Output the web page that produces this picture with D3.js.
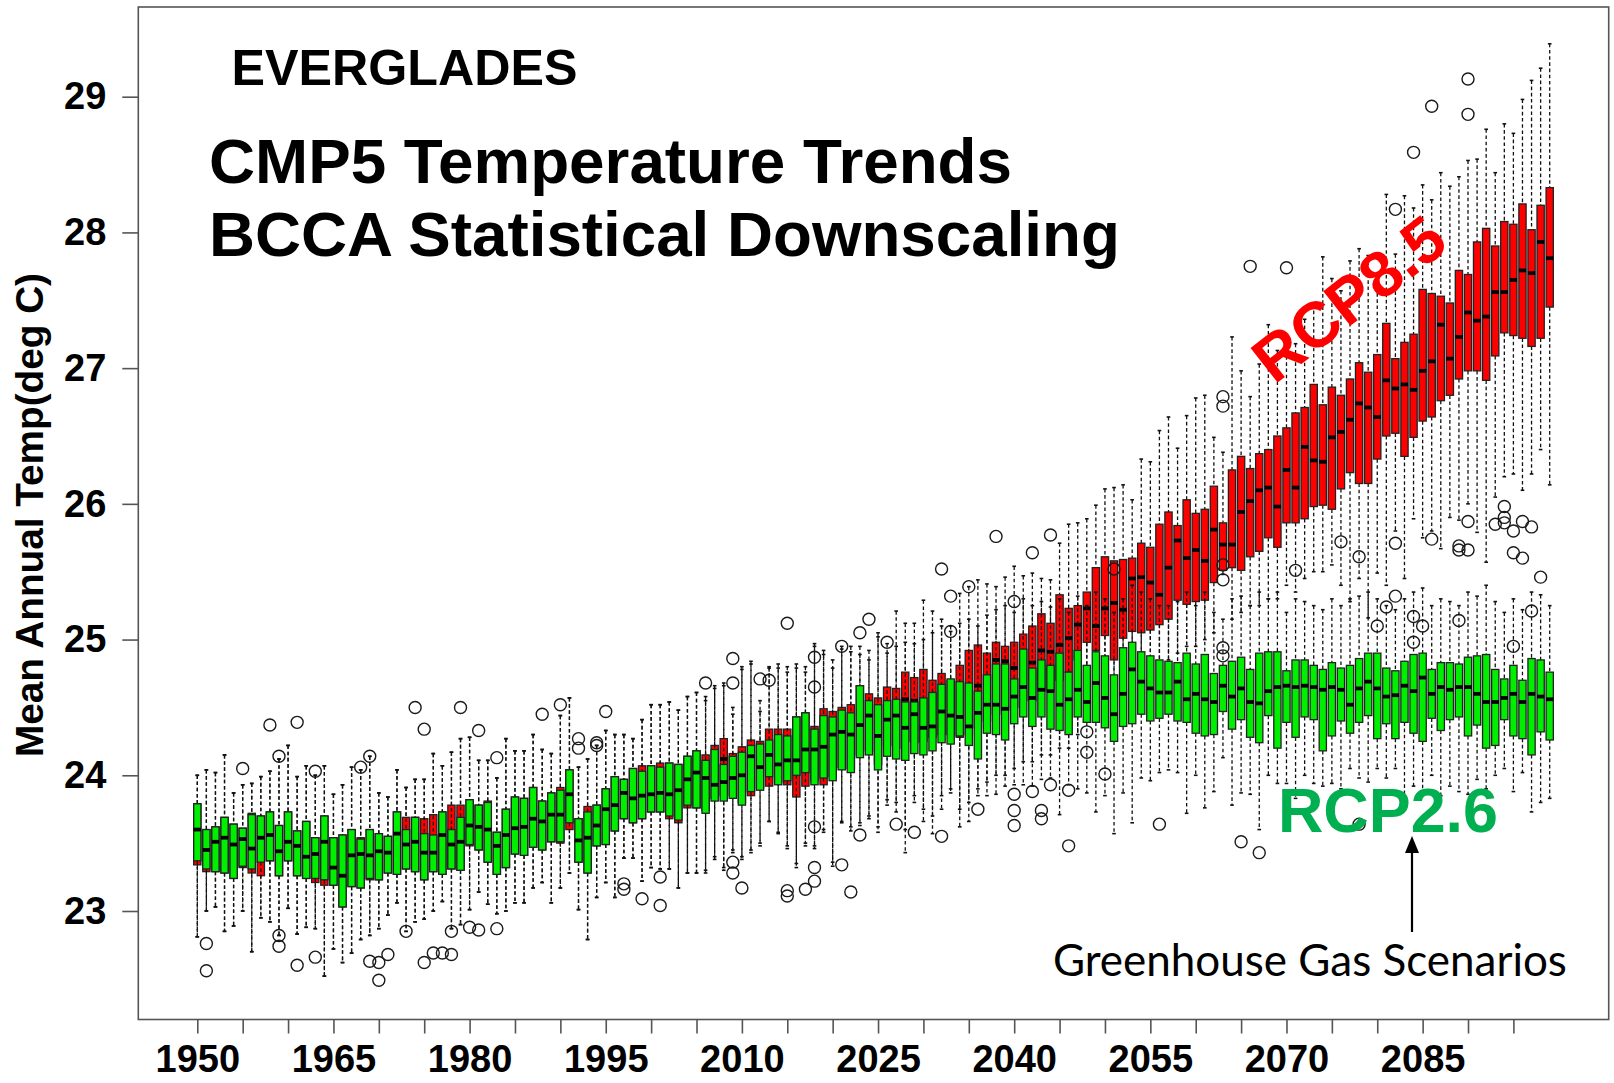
<!DOCTYPE html>
<html>
<head>
<meta charset="utf-8">
<script src="https://cdn.jsdelivr.net/npm/d3@7"></script>
<style>
  html, body { margin: 0; padding: 0; background: #fff; }
  svg { display: block; }
</style>
</head>
<body>
<svg id="chart" width="1614" height="1083"></svg>
<script>
// Everglades mean annual temperature, CMIP5 ensemble (BCCA downscaled), 1950-2099.
// Five-number summaries per year: lower whisker, Q1, median, Q3, upper whisker.

const years = d3.range(1950, 2100);

// ---- RCP2.6 (green) ----
const g_lo = [
  22.81, 23.00, 23.03, 22.85, 22.89, 23.00, 22.70, 22.95, 22.92, 22.82,
  23.02, 22.83, 22.88, 22.87, 22.52, 22.72, 22.62, 22.69, 22.79, 22.82,
  22.87, 22.97, 23.06, 22.85, 22.92, 22.94, 23.00, 23.07, 22.87, 22.90,
  23.01, 23.14, 23.05, 22.98, 23.00, 23.06, 23.06, 23.17, 23.21, 23.06,
  23.17, 23.28, 23.01, 22.79, 23.10, 23.21, 23.10, 23.39, 23.39, 23.22,
  23.32, 23.31, 23.31, 23.17, 23.28, 23.28, 23.28, 23.38, 23.30, 23.43,
  23.38, 23.43, 23.48, 23.66, 23.57, 23.46, 23.32, 23.48, 23.46, 23.58,
  23.33, 23.65, 23.59, 23.63, 23.68, 23.58, 23.78, 23.73, 23.43, 23.80,
  23.66, 23.57, 23.75, 23.87, 23.62, 23.66, 23.85, 23.85, 23.86, 23.92,
  23.93, 23.93, 23.92, 23.97, 23.98, 23.71, 23.93, 23.90, 23.87, 23.73,
  23.85, 23.57, 23.87, 23.65, 23.98, 23.96, 24.02, 24.04, 24.02, 23.72,
  24.00, 23.76, 23.88, 24.13, 23.78, 23.87, 23.86, 23.60, 24.00, 23.94,
  23.94, 23.83, 24.00, 23.94, 23.92, 23.94, 23.90, 24.05, 23.98, 23.95,
  24.05, 23.98, 24.05, 23.75, 23.92, 23.86, 24.00, 23.85, 23.92, 23.88,
  23.86, 23.97, 23.90, 24.00, 24.05, 23.88, 24.02, 23.73, 23.80, 23.83
];
const g_q1 = [
  23.37, 23.31, 23.29, 23.28, 23.24, 23.33, 23.31, 23.36, 23.37, 23.26,
  23.37, 23.26, 23.24, 23.24, 23.23, 23.19, 23.03, 23.18, 23.17, 23.24,
  23.23, 23.28, 23.27, 23.31, 23.29, 23.23, 23.29, 23.27, 23.31, 23.30,
  23.49, 23.45, 23.36, 23.27, 23.32, 23.42, 23.41, 23.47, 23.45, 23.51,
  23.51, 23.65, 23.36, 23.28, 23.48, 23.49, 23.59, 23.68, 23.65, 23.68,
  23.73, 23.73, 23.70, 23.67, 23.78, 23.76, 23.72, 23.81, 23.81, 23.83,
  23.78, 23.88, 23.89, 23.99, 23.93, 23.96, 24.00, 24.02, 23.93, 23.98,
  23.96, 24.04, 24.02, 24.13, 24.15, 24.04, 24.14, 24.12, 24.11, 24.16,
  24.15, 24.18, 24.24, 24.23, 24.29, 24.22, 24.12, 24.31, 24.30, 24.26,
  24.38, 24.43, 24.36, 24.43, 24.34, 24.33, 24.30, 24.43, 24.39, 24.39,
  24.35, 24.25, 24.36, 24.38, 24.45, 24.40, 24.42, 24.45, 24.40, 24.39,
  24.31, 24.29, 24.30, 24.47, 24.34, 24.41, 24.28, 24.24, 24.44, 24.20,
  24.39, 24.28, 24.43, 24.41, 24.18, 24.29, 24.40, 24.31, 24.39, 24.44,
  24.27, 24.38, 24.27, 24.39, 24.31, 24.25, 24.42, 24.33, 24.41, 24.43,
  24.29, 24.37, 24.20, 24.22, 24.41, 24.29, 24.27, 24.15, 24.32, 24.26
];
const g_med = [
  23.60, 23.45, 23.51, 23.54, 23.49, 23.53, 23.46, 23.54, 23.56, 23.44,
  23.51, 23.48, 23.40, 23.42, 23.51, 23.32, 23.26, 23.41, 23.42, 23.41,
  23.44, 23.43, 23.57, 23.49, 23.51, 23.43, 23.43, 23.56, 23.49, 23.51,
  23.63, 23.62, 23.60, 23.48, 23.56, 23.61, 23.62, 23.68, 23.66, 23.71,
  23.71, 23.86, 23.52, 23.54, 23.63, 23.75, 23.78, 23.87, 23.83, 23.85,
  23.86, 23.87, 23.86, 23.89, 23.97, 24.02, 23.98, 23.93, 23.95, 23.98,
  24.00, 24.14, 24.06, 24.15, 24.08, 24.11, 24.11, 24.19, 24.19, 24.21,
  24.30, 24.32, 24.30, 24.37, 24.44, 24.29, 24.41, 24.44, 24.35, 24.45,
  24.35, 24.36, 24.47, 24.44, 24.43, 24.36, 24.46, 24.52, 24.52, 24.49,
  24.58, 24.65, 24.57, 24.63, 24.62, 24.52, 24.56, 24.63, 24.54, 24.68,
  24.57, 24.45, 24.60, 24.78, 24.69, 24.64, 24.61, 24.61, 24.69, 24.56,
  24.60, 24.56, 24.54, 24.66, 24.58, 24.64, 24.54, 24.53, 24.62, 24.65,
  24.66, 24.65, 24.66, 24.65, 24.63, 24.65, 24.63, 24.52, 24.64, 24.69,
  24.64, 24.58, 24.59, 24.66, 24.62, 24.72, 24.60, 24.65, 24.63, 24.65,
  24.65, 24.60, 24.54, 24.54, 24.57, 24.60, 24.54, 24.60, 24.58, 24.56
];
const g_q3 = [
  23.79, 23.60, 23.62, 23.69, 23.64, 23.61, 23.71, 23.70, 23.73, 23.63,
  23.73, 23.59, 23.66, 23.54, 23.70, 23.54, 23.56, 23.60, 23.53, 23.60,
  23.57, 23.55, 23.73, 23.60, 23.69, 23.57, 23.56, 23.73, 23.60, 23.69,
  23.82, 23.78, 23.80, 23.58, 23.75, 23.84, 23.83, 23.91, 23.81, 23.87,
  23.89, 24.04, 23.68, 23.73, 23.78, 23.90, 23.99, 23.97, 24.05, 24.03,
  24.07, 24.06, 24.09, 24.08, 24.14, 24.18, 24.11, 24.19, 24.08, 24.14,
  24.17, 24.22, 24.23, 24.26, 24.30, 24.29, 24.43, 24.46, 24.34, 24.44,
  24.43, 24.48, 24.46, 24.66, 24.55, 24.52, 24.55, 24.56, 24.54, 24.54,
  24.57, 24.61, 24.67, 24.71, 24.69, 24.68, 24.62, 24.74, 24.82, 24.82,
  24.71, 24.93, 24.79, 24.85, 24.81, 24.90, 24.76, 24.92, 24.81, 24.91,
  24.88, 24.74, 24.94, 24.98, 24.91, 24.88, 24.85, 24.84, 24.83, 24.90,
  24.82, 24.89, 24.75, 24.81, 24.84, 24.87, 24.78, 24.90, 24.91, 24.91,
  24.77, 24.85, 24.85, 24.81, 24.78, 24.83, 24.79, 24.81, 24.86, 24.90,
  24.90, 24.79, 24.77, 24.84, 24.89, 24.90, 24.78, 24.83, 24.83, 24.82,
  24.87, 24.88, 24.89, 24.78, 24.71, 24.81, 24.70, 24.86, 24.85, 24.76
];
const g_hi = [
  24.00, 24.04, 24.02, 24.15, 23.87, 23.93, 23.94, 23.99, 24.03, 24.12,
  24.22, 23.99, 24.07, 24.00, 24.07, 23.86, 23.93, 24.06, 24.04, 24.14,
  23.87, 23.84, 24.04, 23.91, 23.97, 23.97, 24.16, 24.07, 24.17, 24.27,
  24.28, 24.11, 24.11, 23.98, 24.27, 24.18, 24.18, 24.30, 24.19, 24.16,
  24.44, 24.57, 24.06, 24.12, 24.22, 24.33, 24.30, 24.30, 24.27, 24.41,
  24.52, 24.52, 24.54, 24.48, 24.58, 24.61, 24.55, 24.64, 24.66, 24.45,
  24.78, 24.82, 24.47, 24.79, 24.79, 24.76, 24.79, 24.76, 24.95, 24.89,
  24.79, 24.93, 24.91, 24.89, 24.85, 25.02, 24.90, 24.95, 24.98, 24.97,
  25.00, 25.05, 25.10, 25.06, 25.12, 25.15, 25.10, 25.18, 25.22, 25.25,
  25.20, 25.30, 25.25, 25.28, 25.24, 25.30, 25.20, 25.32, 25.25, 25.35,
  25.30, 25.20, 25.30, 25.40, 25.35, 25.30, 25.25, 25.25, 25.28, 25.35,
  25.25, 25.35, 25.20, 25.15, 25.30, 25.32, 25.25, 25.35, 25.30, 25.35,
  25.20, 25.30, 25.28, 25.25, 25.22, 25.30, 25.25, 25.30, 25.32, 25.35,
  25.30, 25.25, 25.22, 25.30, 25.35, 25.38, 25.25, 25.30, 25.28, 25.25,
  25.35, 25.32, 25.40, 25.28, 25.20, 25.30, 25.22, 25.35, 25.33, 25.25
];
const g_out = [
  [1951, 22.76], [1951, 22.56], [1955, 24.05], [1958, 24.37], [1959, 24.14],
  [1959, 22.82], [1959, 22.74], [1961, 24.39], [1961, 22.60], [1963, 24.03],
  [1963, 22.66], [1968, 24.06], [1969, 24.14], [1969, 22.63], [1970, 22.62],
  [1970, 22.49], [1971, 22.68], [1973, 22.85], [1974, 24.50], [1975, 24.34],
  [1975, 22.62], [1976, 22.69], [1977, 22.69], [1978, 22.68], [1978, 22.85],
  [1979, 24.50], [1980, 22.88], [1981, 24.33], [1981, 22.86], [1983, 24.13],
  [1983, 22.87], [1988, 24.45], [1990, 24.52], [1992, 24.27], [1992, 24.20],
  [1994, 24.24], [1994, 24.22], [1995, 24.47], [1997, 23.20], [1997, 23.16],
  [1999, 23.09], [2001, 23.25], [2001, 23.04], [2009, 23.36], [2009, 23.28],
  [2010, 23.17], [2015, 23.15], [2015, 23.11], [2017, 23.16], [2018, 23.62],
  [2018, 23.32], [2018, 23.22], [2021, 23.34], [2022, 23.14], [2023, 23.56],
  [2027, 23.64], [2029, 23.58], [2032, 23.55], [2036, 23.75], [2040, 23.86],
  [2040, 23.74], [2040, 23.63], [2042, 23.88], [2043, 23.74], [2043, 23.68],
  [2044, 23.93], [2046, 23.89], [2046, 23.48], [2048, 24.32], [2048, 24.17],
  [2050, 24.01], [2051, 25.52], [2056, 23.64], [2063, 25.55], [2063, 24.94],
  [2063, 24.88], [2065, 23.51], [2067, 23.43], [2071, 25.51], [2078, 23.64],
  [2080, 25.10], [2081, 25.24], [2082, 25.32], [2084, 25.17], [2084, 24.98],
  [2085, 25.10], [2089, 25.14], [2095, 24.95], [2097, 25.21], [2098, 25.46]
];

// ---- RCP8.5 (red) ----
const r_lo = [
  22.81, 23.00, 23.03, 22.85, 22.89, 23.00, 22.70, 22.95, 22.92, 22.82,
  23.02, 22.83, 22.88, 22.87, 22.52, 22.72, 22.62, 22.69, 22.79, 22.82,
  22.87, 22.97, 23.06, 22.85, 22.92, 22.94, 23.00, 23.07, 22.87, 22.90,
  23.01, 23.14, 23.05, 22.98, 23.00, 23.06, 23.06, 23.17, 23.21, 23.06,
  23.17, 23.28, 23.01, 22.79, 23.10, 23.21, 23.10, 23.39, 23.39, 23.22,
  23.32, 23.31, 23.31, 23.17, 23.28, 23.28, 23.30, 23.40, 23.32, 23.45,
  23.40, 23.45, 23.50, 23.66, 23.58, 23.48, 23.35, 23.50, 23.48, 23.60,
  23.36, 23.66, 23.62, 23.65, 23.70, 23.62, 23.82, 23.80, 23.60, 23.85,
  23.75, 23.70, 23.85, 23.90, 23.75, 23.80, 23.90, 23.95, 24.00, 24.00,
  24.05, 24.10, 24.10, 24.15, 24.15, 24.20, 24.20, 24.30, 24.40, 24.40,
  24.65, 24.55, 24.70, 24.75, 24.75, 24.80, 24.75, 24.85, 24.90, 24.95,
  24.95, 25.00, 25.05, 25.48, 25.15, 25.20, 25.25, 25.25, 25.30, 25.30,
  25.40, 25.35, 25.45, 25.50, 25.50, 25.55, 25.40, 25.28, 25.45, 25.16,
  25.49, 25.40, 25.80, 25.45, 25.89, 25.75, 25.80, 25.67, 25.90, 25.88,
  26.00, 25.79, 25.57, 26.05, 26.20, 26.22, 26.10, 26.22, 26.40, 26.14
];
const r_q1 = [
  23.34, 23.29, 23.29, 23.28, 23.24, 23.32, 23.28, 23.26, 23.37, 23.26,
  23.37, 23.26, 23.24, 23.21, 23.19, 23.19, 23.03, 23.18, 23.17, 23.23,
  23.23, 23.28, 23.27, 23.31, 23.29, 23.23, 23.29, 23.27, 23.31, 23.30,
  23.48, 23.45, 23.36, 23.27, 23.32, 23.42, 23.41, 23.47, 23.45, 23.51,
  23.50, 23.60, 23.36, 23.28, 23.48, 23.49, 23.59, 23.68, 23.65, 23.68,
  23.73, 23.73, 23.68, 23.65, 23.76, 23.76, 23.74, 23.83, 23.85, 23.85,
  23.80, 23.85, 23.91, 23.92, 23.95, 23.93, 23.84, 23.92, 23.96, 23.93,
  23.99, 24.06, 24.05, 24.15, 24.18, 24.08, 24.22, 24.20, 24.25, 24.24,
  24.25, 24.28, 24.30, 24.30, 24.28, 24.30, 24.35, 24.40, 24.45, 24.48,
  24.50, 24.55, 24.55, 24.62, 24.62, 24.70, 24.76, 24.85, 24.98, 24.92,
  25.03, 24.85, 25.01, 25.06, 25.05, 25.07, 25.11, 25.15, 25.29, 25.26,
  25.28, 25.29, 25.42, 25.51, 25.53, 25.51, 25.61, 25.65, 25.75, 25.68,
  25.86, 25.86, 25.89, 25.98, 25.99, 25.96, 26.11, 26.23, 26.15, 26.15,
  26.33, 26.50, 26.52, 26.35, 26.49, 26.61, 26.64, 26.76, 26.80, 26.92,
  26.98, 26.98, 26.91, 27.09, 27.26, 27.24, 27.22, 27.16, 27.22, 27.45
];
const r_med = [
  23.60, 23.45, 23.51, 23.54, 23.49, 23.53, 23.46, 23.54, 23.56, 23.44,
  23.51, 23.48, 23.40, 23.42, 23.51, 23.32, 23.26, 23.41, 23.42, 23.41,
  23.44, 23.43, 23.57, 23.49, 23.51, 23.43, 23.43, 23.56, 23.49, 23.51,
  23.63, 23.62, 23.60, 23.48, 23.56, 23.61, 23.62, 23.68, 23.66, 23.71,
  23.71, 23.86, 23.52, 23.54, 23.63, 23.75, 23.78, 23.87, 23.83, 23.85,
  23.86, 23.87, 23.86, 23.89, 23.97, 24.02, 24.00, 23.97, 24.12, 24.00,
  24.03, 24.16, 24.10, 24.18, 24.12, 24.15, 24.16, 24.22, 24.23, 24.26,
  24.33, 24.36, 24.36, 24.42, 24.48, 24.40, 24.49, 24.52, 24.56, 24.55,
  24.55, 24.50, 24.55, 24.52, 24.58, 24.60, 24.66, 24.68, 24.85, 24.84,
  24.79, 24.85, 24.83, 24.92, 24.91, 24.96, 25.01, 25.11, 25.23, 25.10,
  25.23, 25.27, 25.22, 25.45, 25.46, 25.42, 25.33, 25.53, 25.73, 25.60,
  25.66, 25.58, 25.81, 25.70, 25.70, 25.94, 26.02, 26.10, 26.12, 25.98,
  26.25, 26.12, 26.42, 26.32, 26.31, 26.49, 26.53, 26.62, 26.74, 26.71,
  26.64, 26.91, 26.85, 26.88, 26.84, 26.98, 27.05, 27.32, 27.07, 27.23,
  27.41, 27.35, 27.38, 27.56, 27.56, 27.65, 27.72, 27.70, 27.93, 27.81
];
const r_q3 = [
  23.79, 23.60, 23.62, 23.69, 23.64, 23.61, 23.72, 23.70, 23.73, 23.63,
  23.73, 23.59, 23.66, 23.54, 23.70, 23.54, 23.56, 23.60, 23.54, 23.60,
  23.57, 23.55, 23.73, 23.69, 23.69, 23.68, 23.71, 23.73, 23.78, 23.78,
  23.82, 23.78, 23.81, 23.58, 23.75, 23.84, 23.83, 23.91, 23.81, 23.87,
  23.91, 24.04, 23.68, 23.77, 23.78, 23.90, 23.99, 23.97, 24.05, 24.07,
  24.07, 24.09, 24.09, 24.08, 24.14, 24.18, 24.15, 24.22, 24.27, 24.16,
  24.21, 24.26, 24.25, 24.34, 24.34, 24.34, 24.43, 24.46, 24.36, 24.49,
  24.47, 24.50, 24.52, 24.66, 24.60, 24.57, 24.65, 24.64, 24.76, 24.72,
  24.78, 24.70, 24.75, 24.70, 24.81, 24.92, 24.96, 24.90, 24.98, 24.95,
  24.98, 25.04, 25.10, 25.19, 25.12, 25.33, 25.23, 25.25, 25.35, 25.53,
  25.61, 25.58, 25.59, 25.60, 25.71, 25.68, 25.85, 25.94, 25.84, 26.03,
  25.93, 25.96, 26.13, 25.86, 26.25, 26.35, 26.26, 26.37, 26.40, 26.50,
  26.56, 26.67, 26.71, 26.88, 26.73, 26.86, 26.80, 26.92, 27.04, 26.97,
  27.10, 27.33, 27.07, 27.19, 27.25, 27.58, 27.55, 27.53, 27.48, 27.72,
  27.69, 27.93, 28.03, 27.90, 28.08, 28.06, 28.21, 28.02, 28.20, 28.33
];
const r_hi = [
  24.00, 24.04, 24.02, 24.15, 23.87, 23.93, 23.94, 23.99, 24.03, 24.12,
  24.22, 23.99, 24.07, 24.00, 24.07, 23.86, 23.93, 24.06, 24.04, 24.14,
  23.87, 23.84, 24.04, 23.91, 23.97, 23.97, 24.16, 24.07, 24.17, 24.27,
  24.28, 24.11, 24.11, 23.98, 24.27, 24.18, 24.18, 24.30, 24.19, 24.16,
  24.44, 24.57, 24.06, 24.12, 24.22, 24.33, 24.30, 24.30, 24.27, 24.41,
  24.52, 24.52, 24.54, 24.48, 24.58, 24.61, 24.58, 24.66, 24.68, 24.50,
  24.80, 24.84, 24.55, 24.80, 24.82, 24.80, 24.82, 24.80, 24.97, 24.92,
  24.85, 24.95, 24.95, 24.95, 24.92, 25.05, 24.97, 25.21, 25.12, 25.12,
  25.29, 25.21, 25.15, 25.10, 25.34, 25.39, 25.44, 25.41, 25.39, 25.46,
  25.54, 25.47, 25.49, 25.45, 25.44, 25.71, 25.85, 25.86, 25.89, 25.99,
  26.11, 26.12, 26.14, 26.03, 26.33, 26.31, 26.54, 26.64, 26.41, 26.65,
  26.78, 26.80, 26.49, 26.38, 27.23, 26.98, 26.79, 27.03, 27.32, 27.13,
  27.18, 27.18, 27.36, 27.47, 27.82, 27.66, 27.57, 27.79, 27.88, 27.83,
  27.69, 28.28, 27.84, 28.27, 28.18, 28.35, 28.24, 28.44, 28.34, 28.41,
  28.53, 28.54, 28.76, 28.44, 28.80, 28.73, 28.98, 29.12, 29.21, 29.39
];
const r_out = [
  [2006, 24.68], [2009, 24.86], [2009, 24.68], [2012, 24.71], [2013, 24.70],
  [2015, 25.12], [2018, 24.87], [2018, 24.65], [2021, 24.95], [2023, 25.05],
  [2024, 25.15], [2026, 24.98], [2032, 25.52], [2033, 25.32], [2033, 25.06],
  [2035, 25.39], [2038, 25.76], [2040, 25.28], [2042, 25.64], [2044, 25.77],
  [2063, 26.79], [2063, 26.72], [2063, 25.44], [2066, 27.75], [2070, 27.74],
  [2076, 25.72], [2078, 25.61], [2082, 28.17], [2082, 25.71], [2084, 28.59],
  [2086, 28.93], [2086, 25.74], [2089, 25.69], [2089, 25.66], [2090, 29.13],
  [2090, 28.87], [2090, 25.66], [2090, 25.87], [2093, 25.85], [2094, 25.90],
  [2094, 25.86], [2094, 25.98], [2095, 25.80], [2095, 25.64], [2096, 25.87],
  [2096, 25.60], [2097, 25.83]
];

// axis ticks
const xTicks = d3.range(1950, 2100, 5);
const xLabelYears = [1950, 1965, 1980, 1995, 2010, 2025, 2040, 2055, 2070, 2085];
const yTicks = [23, 24, 25, 26, 27, 28, 29];

// ---- layout ----
const svg = d3.select("#chart");
const plot = { left: 138.3, right: 1608.7, top: 7, bottom: 1019.5 };

const x = d3.scaleLinear().domain([1943.5, 2105.5]).range([plot.left, plot.right]);
const y = d3.scaleLinear().domain([23, 29]).range([911, 96.7]);
const boxW = 0.8 * (x(1951) - x(1950));
const stapleW = boxW * 0.5;

function series(lo, q1, med, q3, hi) {
  return years.map((yr, i) => ({ yr, lo: lo[i], q1: q1[i], med: med[i], q3: q3[i], hi: hi[i] }));
}
const red = series(r_lo, r_q1, r_med, r_q3, r_hi);
const green = series(g_lo, g_q1, g_med, g_q3, g_hi);

function drawBoxes(data, outliers, fill, cls) {
  const g = svg.append("g").attr("class", cls);
  const b = g.selectAll("g.box").data(data).join("g").attr("class", "box");
  // whiskers (dashed)
  b.append("line")
    .attr("x1", d => x(d.yr)).attr("x2", d => x(d.yr))
    .attr("y1", d => y(d.hi)).attr("y2", d => y(d.q3))
    .attr("stroke", "#111").attr("stroke-width", 1.3).attr("stroke-dasharray", "3.6,2.6");
  b.append("line")
    .attr("x1", d => x(d.yr)).attr("x2", d => x(d.yr))
    .attr("y1", d => y(d.q1)).attr("y2", d => y(d.lo))
    .attr("stroke", "#111").attr("stroke-width", 1.3).attr("stroke-dasharray", "3.6,2.6");
  // staples
  b.append("line")
    .attr("x1", d => x(d.yr) - stapleW / 2).attr("x2", d => x(d.yr) + stapleW / 2)
    .attr("y1", d => y(d.hi)).attr("y2", d => y(d.hi))
    .attr("stroke", "#111").attr("stroke-width", 1.6);
  b.append("line")
    .attr("x1", d => x(d.yr) - stapleW / 2).attr("x2", d => x(d.yr) + stapleW / 2)
    .attr("y1", d => y(d.lo)).attr("y2", d => y(d.lo))
    .attr("stroke", "#111").attr("stroke-width", 1.6);
  // box
  b.append("rect")
    .attr("x", d => x(d.yr) - boxW / 2).attr("width", boxW)
    .attr("y", d => y(d.q3)).attr("height", d => y(d.q1) - y(d.q3))
    .attr("fill", fill).attr("stroke", "#222").attr("stroke-width", 1.3);
  // median
  b.append("line")
    .attr("x1", d => x(d.yr) - boxW / 2).attr("x2", d => x(d.yr) + boxW / 2)
    .attr("y1", d => y(d.med)).attr("y2", d => y(d.med))
    .attr("stroke", "#000").attr("stroke-width", 3.8);
  // outliers
  g.selectAll("circle").data(outliers).join("circle")
    .attr("cx", d => x(d[0])).attr("cy", d => y(d[1])).attr("r", 6)
    .attr("fill", "none").attr("stroke", "#1a1a1a").attr("stroke-width", 1.4);
}

drawBoxes(red, r_out, "#ff0000", "rcp85");
drawBoxes(green, g_out, "#00ee00", "rcp26");

// frame
svg.append("rect")
  .attr("x", plot.left).attr("y", plot.top)
  .attr("width", plot.right - plot.left).attr("height", plot.bottom - plot.top)
  .attr("fill", "none").attr("stroke", "#555").attr("stroke-width", 1.6);

const arial = "'Liberation Sans', Arial, sans-serif";

// x axis
const xAxis = d3.axisBottom(x).tickValues(xTicks)
  .tickFormat(d => xLabelYears.includes(d) ? String(d) : "")
  .tickSize(14).tickPadding(12);
const gx = svg.append("g").attr("transform", `translate(0,${plot.bottom})`).call(xAxis);
gx.select(".domain").remove();
gx.selectAll(".tick line").attr("stroke", "#555").attr("stroke-width", 1.6);
gx.selectAll(".tick text")
  .attr("font-family", arial)
  .attr("font-weight", "bold").attr("font-size", 38).attr("fill", "#000");

// y axis
const yAxis = d3.axisLeft(y).tickValues(yTicks).tickFormat(d3.format("d"))
  .tickSize(16).tickPadding(16);
const gy = svg.append("g").attr("transform", `translate(${plot.left},0)`).call(yAxis);
gy.select(".domain").remove();
gy.selectAll(".tick line").attr("stroke", "#555").attr("stroke-width", 1.6);
gy.selectAll(".tick text")
  .attr("font-family", arial)
  .attr("font-weight", "bold").attr("font-size", 38).attr("fill", "#000");

// helper: text sized to a given width
function fitText(sel, width) {
  const node = sel.node();
  const fs = parseFloat(sel.attr("font-size"));
  const w = node.getComputedTextLength();
  if (w > 0) sel.attr("font-size", (fs * width / w).toFixed(2));
  return sel;
}

// y axis title
fitText(svg.append("text")
  .attr("transform", "translate(43,515) rotate(-90)")
  .attr("text-anchor", "middle")
  .attr("font-family", arial).attr("font-weight", "bold").attr("font-size", 37)
  .text("Mean Annual Temp(deg C)"), 484);

// titles
fitText(svg.append("text").attr("x", 231.5).attr("y", 85)
  .attr("font-family", arial).attr("font-weight", "bold").attr("font-size", 50)
  .text("EVERGLADES"), 346);
fitText(svg.append("text").attr("x", 209).attr("y", 183)
  .attr("font-family", arial).attr("font-weight", "bold").attr("font-size", 63)
  .text("CMP5 Temperature Trends"), 803);
fitText(svg.append("text").attr("x", 209).attr("y", 256)
  .attr("font-family", arial).attr("font-weight", "bold").attr("font-size", 63)
  .text("BCCA Statistical Downscaling"), 911);

// scenario labels
svg.append("text")
  .attr("transform", "translate(1349,299) rotate(-38)")
  .attr("text-anchor", "middle").attr("y", 22)
  .attr("font-family", arial).attr("font-weight", "bold").attr("font-size", 64)
  .attr("fill", "#ff0000")
  .text("RCP8.5");
fitText(svg.append("text").attr("x", 1278).attr("y", 832)
  .attr("font-family", arial).attr("font-weight", "bold").attr("font-size", 63)
  .attr("fill", "#00b050")
  .text("RCP2.6"), 220);

// arrow from caption up to the scenario labels
svg.append("line").attr("x1", 1412).attr("x2", 1412).attr("y1", 932).attr("y2", 850)
  .attr("stroke", "#000").attr("stroke-width", 2.2);
svg.append("path").attr("d", "M1412,836 L1405,853 L1419,853 Z").attr("fill", "#000");

fitText(svg.append("text").attr("x", 1053).attr("y", 976)
  .attr("font-family", "Lato, 'Open Sans', sans-serif").attr("font-size", 44)
  .attr("fill", "#000")
  .text("Greenhouse Gas Scenarios"), 514);
</script>
</body>
</html>
